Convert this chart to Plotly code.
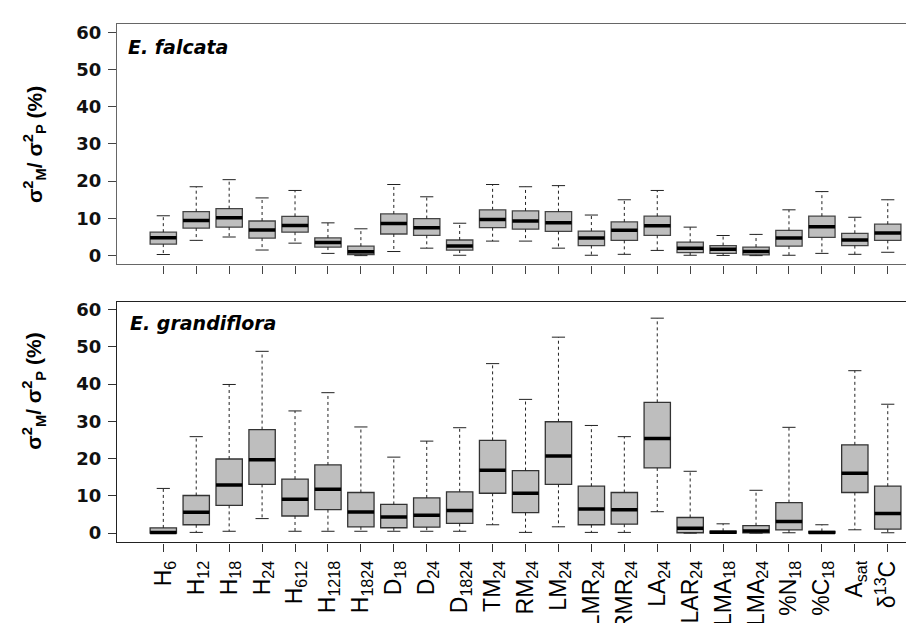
import plotly.graph_objects as go

categories = ["H<sub>6</sub>", "H<sub>12</sub>", "H<sub>18</sub>", "H<sub>24</sub>", "H<sub>612</sub>",
              "H<sub>1218</sub>", "H<sub>1824</sub>", "D<sub>18</sub>", "D<sub>24</sub>", "D<sub>1824</sub>",
              "TM<sub>24</sub>", "RM<sub>24</sub>", "LM<sub>24</sub>", "LMR<sub>24</sub>", "RMR<sub>24</sub>",
              "LA<sub>24</sub>", "LAR<sub>24</sub>", "LMA<sub>18</sub>", "LMA<sub>24</sub>", "%N<sub>18</sub>",
              "%C<sub>18</sub>", "A<sub>sat</sub>", "δ<sup>13</sup>C"]

# E. falcata (top panel)
falc_low = [0.3, 4.1, 5.0, 1.5, 3.35, 0.6, 0.0, 1.1, 2.0, 0.1, 3.9, 3.9, 2.0, 0.1, 0.35, 1.4, 0.1, 0.05, 0.0, 0.1, 0.6, 0.35, 0.9]
falc_q1 = [3.1, 7.4, 7.65, 4.7, 6.3, 2.3, 0.3, 5.8, 5.45, 1.5, 7.5, 7.1, 6.5, 2.7, 4.1, 5.45, 0.8, 0.6, 0.2, 2.55, 4.9, 2.7, 4.1]
falc_med = [4.8, 9.4, 10.2, 6.9, 8.1, 3.5, 1.05, 8.6, 7.5, 2.6, 9.7, 9.3, 8.8, 4.75, 6.8, 8.0, 2.0, 1.7, 1.1, 4.75, 7.75, 4.2, 6.1]
falc_q3 = [6.3, 11.8, 12.6, 9.3, 10.55, 4.75, 2.55, 11.2, 9.95, 4.2, 12.3, 12.0, 11.8, 6.6, 9.05, 10.6, 3.6, 2.7, 2.3, 6.8, 10.6, 6.0, 8.45]
falc_high = [10.7, 18.5, 20.4, 15.5, 17.5, 8.8, 7.2, 19.1, 15.8, 8.7, 19.1, 18.5, 18.8, 10.9, 15.0, 17.5, 7.65, 5.4, 5.7, 12.3, 17.2, 10.3, 15.0]

# E. grandiflora (bottom panel)
gran_low = [0.0, 0.2, 0.5, 3.9, 0.5, 0.5, 0.5, 0.5, 0.5, 0.5, 2.25, 0.2, 1.7, 0.2, 0.2, 5.75, 0.0, 0.0, 0.0, 0.1, 0.0, 0.9, 0.1]
gran_q1 = [0.0, 2.25, 7.45, 13.1, 4.6, 6.3, 1.7, 1.45, 1.6, 2.6, 10.7, 5.5, 13.1, 2.25, 2.4, 17.5, 0.1, 0.0, 0.05, 0.85, 0.0, 10.9, 1.1]
gran_med = [0.2, 5.6, 12.9, 19.7, 9.1, 11.8, 5.7, 4.3, 4.8, 6.1, 16.9, 10.7, 20.7, 6.5, 6.3, 25.4, 1.3, 0.25, 0.55, 3.1, 0.2, 16.1, 5.3]
gran_q3 = [1.4, 10.1, 19.9, 27.8, 14.5, 18.3, 10.9, 7.7, 9.45, 11.1, 24.9, 16.8, 29.9, 12.6, 10.9, 35.1, 4.2, 0.5, 2.0, 8.2, 0.45, 23.7, 12.6]
gran_high = [12.0, 25.9, 39.9, 48.8, 32.8, 37.7, 28.5, 20.4, 24.7, 28.3, 45.5, 35.9, 52.6, 28.9, 25.9, 57.7, 16.6, 2.5, 11.5, 28.4, 2.25, 43.6, 34.6]

y_ticks = [0, 10, 20, 30, 40, 50, 60]
panel_titles = ["E. falcata", "E. grandiflora"]

W, H = 914, 623
BOXW = 0.8
CAPW = 0.4
xs = list(range(1, len(categories) + 1))

fig = go.Figure()


def add_panel(low, q1, med, q3, high, xa, ya, edge):
    wx, wy = [], []
    cx, cy = [], []
    mx, my = [], []
    for i, x in enumerate(xs):
        wx += [x, x, None, x, x, None]
        wy += [q3[i], high[i], None, q1[i], low[i], None]
        cx += [x - CAPW / 2, x + CAPW / 2, None, x - CAPW / 2, x + CAPW / 2, None]
        cy += [high[i], high[i], None, low[i], low[i], None]
        mx += [x - BOXW / 2, x + BOXW / 2, None]
        my += [med[i], med[i], None]
    fig.add_trace(go.Scatter(x=wx, y=wy, mode="lines", xaxis=xa, yaxis=ya,
                             line=dict(color="#222222", width=1, dash="3px,3px"),
                             hoverinfo="skip", showlegend=False))
    fig.add_trace(go.Scatter(x=cx, y=cy, mode="lines", xaxis=xa, yaxis=ya,
                             line=dict(color="#222222", width=1),
                             hoverinfo="skip", showlegend=False))
    fig.add_trace(go.Bar(x=xs, y=[b - a for a, b in zip(q1, q3)], base=q1, width=BOXW,
                         xaxis=xa, yaxis=ya,
                         marker=dict(color="#BEBEBE", line=dict(color=edge, width=1.3)),
                         showlegend=False))
    fig.add_trace(go.Scatter(x=mx, y=my, mode="lines", xaxis=xa, yaxis=ya,
                             line=dict(color="black", width=3.5),
                             hoverinfo="skip", showlegend=False))


add_panel(falc_low, falc_q1, falc_med, falc_q3, falc_high, "x", "y", "#444444")
add_panel(gran_low, gran_q1, gran_med, gran_q3, gran_high, "x2", "y2", "#333333")

x0 = 109 / W
xrange = [1 - (155.3 - 109) / 32.93, 1 + (914 - 155.3) / 32.93]

tickfont_y = dict(family="DejaVu Sans", size=18, color="#111111", weight="bold")

common_x = dict(range=xrange, tickvals=xs, ticks="outside", ticklen=8, tickwidth=1,
                showline=True, linewidth=1.3, mirror=True, showgrid=False, zeroline=False)
common_y = dict(tickvals=y_ticks, ticks="outside", ticklen=8, tickwidth=1,
                showline=True, linewidth=1.3, showgrid=False, zeroline=False,
                tickfont=tickfont_y, ticklabelstandoff=3)

fig.update_layout(
    width=W, height=H,
    margin=dict(l=0, r=0, t=0, b=0),
    paper_bgcolor="white", plot_bgcolor="white",
    barmode="overlay",
    xaxis=dict(domain=[x0, 1], anchor="y", showticklabels=False,
               linecolor="#666666", tickcolor="#444444", **common_x),
    yaxis=dict(domain=[1 - 258 / H, 1 - 13 / H], anchor="x", range=[-2.37, 62.27],
               linecolor="#666666", tickcolor="#444444", **common_y),
    xaxis2=dict(domain=[x0, 1], anchor="y2", ticktext=categories, tickangle=-90,
                tickfont=dict(family="Liberation Sans", size=23, color="black"),
                linecolor="#222222", tickcolor="#333333", **common_x),
    yaxis2=dict(domain=[1 - 541 / H, 1 - 296 / H], anchor="x2", range=[-2.5, 62.1],
                linecolor="#222222", tickcolor="#333333", **common_y),
)

ytitle = "σ<sup>2</sup><sub>M</sub>/ σ<sup>2</sup><sub>P</sub> (%)"
annos = [
    dict(text="<b><i>" + panel_titles[0] + "</i></b>", x=118 / W, y=1 - 37 / H),
    dict(text="<b><i>" + panel_titles[1] + "</i></b>", x=120 / W, y=1 - 318 / H),
]
for a in annos:
    fig.add_annotation(xref="paper", yref="paper", xanchor="left", yanchor="middle",
                       showarrow=False, font=dict(family="DejaVu Sans", size=19, color="black"), **a)
for yc in [136.5, 387.5]:
    fig.add_annotation(text="<b>" + ytitle + "</b>", xref="paper", yref="paper",
                       x=26 / W, y=1 - yc / H, xanchor="center", yanchor="middle",
                       textangle=-90, showarrow=False,
                       font=dict(family="Liberation Sans", size=21, color="black"))

fig.write_html("out.html")
